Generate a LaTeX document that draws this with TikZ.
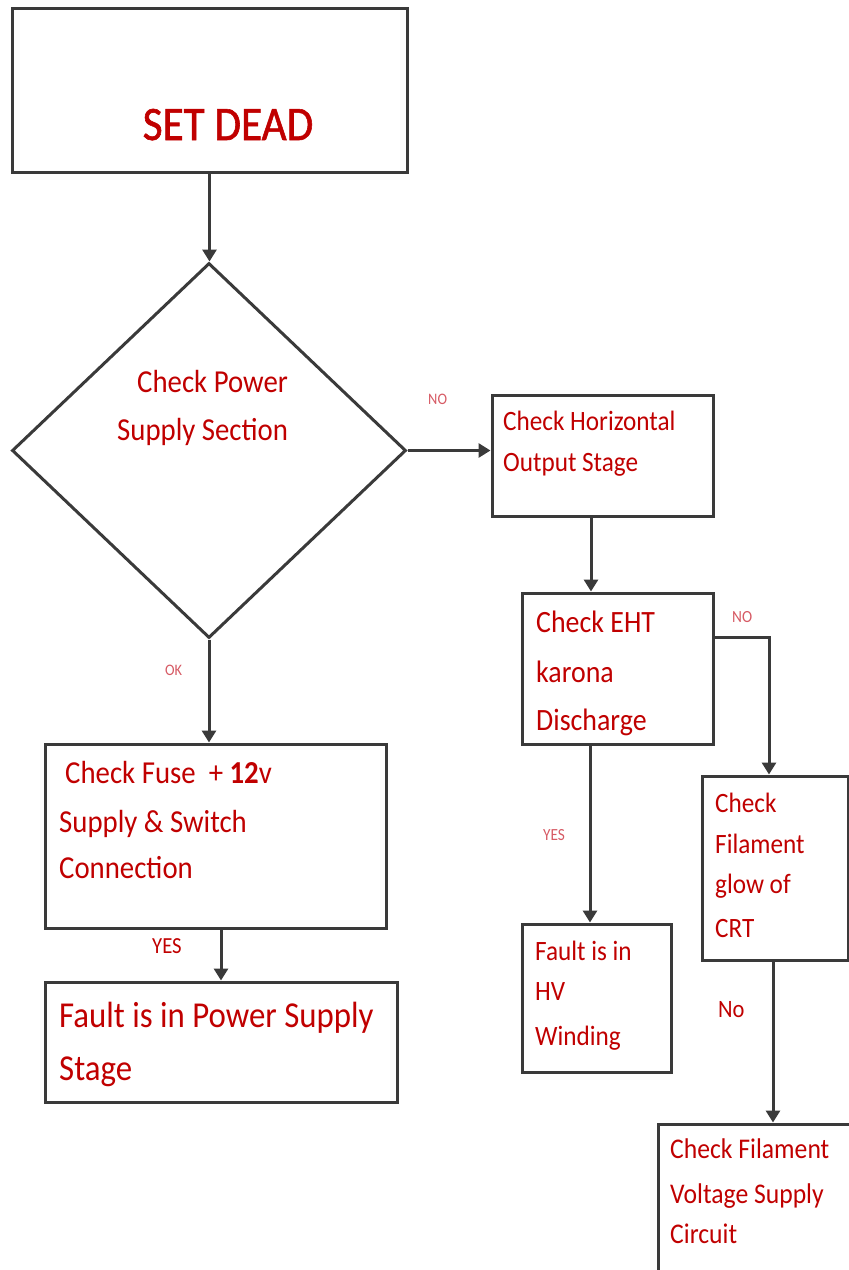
\documentclass[tikz,border=0pt]{standalone}
\usepackage{fontspec}
\setmainfont{Carlito}[FakeStretch=0.9]
\newfontfamily\headfont{Carlito}[FakeStretch=0.9,FakeBold=1.2]
\usetikzlibrary{shapes.geometric,arrows.meta}
\definecolor{tred}{HTML}{C00000}
\definecolor{lred}{HTML}{D65A64}
\definecolor{edge}{HTML}{3A3A3A}
\newcommand{\fs}[1]{\fontsize{#1}{#1}\selectfont}
\begin{document}
\begin{tikzpicture}[x=1pt,y=-1pt,
  box/.style={draw=edge,line width=3pt,inner sep=0pt,rectangle},
  arr/.style={draw=edge,line width=3pt,-{Triangle[width=14pt,length=12pt]}},
  txt/.style={text=tred,anchor=base west,inner sep=0pt},
  lab/.style={text=lred,anchor=base west,inner sep=0pt}]
\useasboundingbox (0,0) rectangle (849,1270);
\clip (0,0) rectangle (849,1270);
% boxes
\node[box,minimum width=395pt,minimum height=164pt] (sd) at (209.5,90) {};
\node[box,draw=edge,line width=3pt,shape=diamond,minimum width=394pt,minimum height=375pt,inner sep=0pt] (dia) at (209,450.5) {};
\node[box,minimum width=221pt,minimum height=121pt] (hor) at (602.5,455.5) {};
\node[box,minimum width=191pt,minimum height=151pt] (eht) at (617.5,668.5) {};
\node[box,minimum width=146pt,minimum height=184pt] (fil) at (775,868) {};
\node[box,minimum width=232pt,minimum height=176pt] (last) at (774,1212) {};
\node[box,minimum width=149pt,minimum height=148pt] (hv) at (596.5,998) {};
\node[box,minimum width=341pt,minimum height=184pt] (fuse) at (215.5,836) {};
\node[box,minimum width=352pt,minimum height=120pt] (fps) at (221,1042) {};
% texts
\node[txt,anchor=base,font=\headfont\fs{48}] (tsd) at (228,140) {SET DEAD};
\node[txt,font=\fs{32}] (tdia1) at (137,392) {Check Power};
\node[txt,font=\fs{32}] (tdia2) at (117,440) {Supply Section};
\node[txt,font=\fs{28}] (thor1) at (503,430) {Check Horizontal};
\node[txt,font=\fs{28}] (thor2) at (503,471) {Output Stage};
\node[txt,font=\fs{31}] (teht1) at (536,632) {Check EHT};
\node[txt,font=\fs{31}] (teht2) at (536,682) {karona};
\node[txt,font=\fs{31}] (teht3) at (536,730) {Discharge};
\node[txt,font=\fs{32}] (tfuse1) at (65,783) {Check Fuse\ \ + \textbf{12}v};
\node[txt,font=\fs{32}] (tfuse2) at (59,832) {Supply \& Switch};
\node[txt,font=\fs{32}] (tfuse3) at (59,878) {Connection};
\node[txt,font=\fs{36.5}] (tfps1) at (59,1027) {Fault is in Power Supply};
\node[txt,font=\fs{36.5}] (tfps2) at (59,1080) {Stage};
\node[txt,font=\fs{28}] (tfil1) at (715,812) {Check};
\node[txt,font=\fs{28}] (tfil2) at (715,853) {Filament};
\node[txt,font=\fs{28}] (tfil3) at (715,893) {glow of};
\node[txt,font=\fs{28}] (tfil4) at (715,937) {CRT};
\node[txt,font=\fs{28}] (thv1) at (535,960) {Fault is in};
\node[txt,font=\fs{28}] (thv2) at (535,1000) {HV};
\node[txt,font=\fs{28}] (thv3) at (535,1045) {Winding};
\node[txt,font=\fs{28.5}] (tlast1) at (670,1158) {Check Filament};
\node[txt,font=\fs{28.5}] (tlast2) at (670,1203) {Voltage Supply};
\node[txt,font=\fs{28.5}] (tlast3) at (670,1243) {Circuit};
% labels
\node[lab,font=\fs{16}] (lno1) at (428,404) {NO};
\node[lab,font=\fs{16}] (lok) at (165,675) {OK};
\node[lab,font=\fs{17}] (lno2) at (732,622) {NO};
\node[lab,font=\fs{17}] (lyes1) at (543,840) {YES};
\node[txt,font=\fs{23}] (lyes2) at (152,953) {YES};
\node[txt,font=\fs{25}] (lno3) at (718,1017) {No};
% connectors
\draw[arr] (sd.south) -- (sd.south |- dia.north);
\draw[arr] (dia.east) -- (dia.east -| hor.west);
\draw[arr] (dia.south) -- (dia.south |- fuse.north);
\draw[arr] (fps.north |- fuse.south) -- (fps.north);
\draw[arr] ([xshift=-11.5pt]hor.south) -- ([xshift=-11.5pt]hor.south |- eht.north);
\draw[arr] ([xshift=-27.5pt]eht.south) -- ([xshift=-27.5pt]eht.south |- hv.north);
\draw[arr] ([yshift=31.5pt]eht.east) -| ([xshift=-6pt]fil.north);
\draw[arr] ([xshift=-2pt]fil.south) -- ([xshift=-2pt]fil.south |- last.north);
\end{tikzpicture}
\end{document}
